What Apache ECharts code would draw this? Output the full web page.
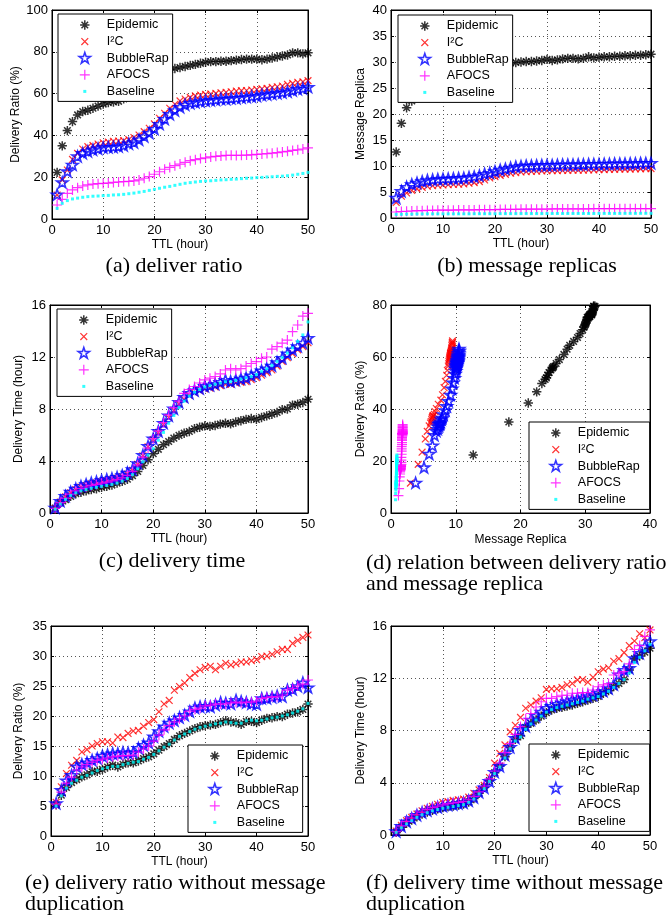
<!DOCTYPE html>
<html>
<head>
<meta charset="utf-8">
<script src="https://cdn.jsdelivr.net/npm/echarts@6/dist/echarts.min.js"></script>
<style>
  html, body { margin: 0; padding: 0; background: #fff; }
  #chart { width: 666px; height: 919px; }
</style>
</head>
<body>
<div id="chart"></div>
<script>
  // TTL (hour)
  const ttl = [1, 2, 3, 4, 5, 6, 7, 8, 9, 10, 11, 12, 13, 14, 15, 16, 17, 18, 19, 20,
    21, 22, 23, 24, 25, 26, 27, 28, 29, 30, 31, 32, 33, 34, 35, 36, 37, 38, 39, 40,
    41, 42, 43, 44, 45, 46, 47, 48, 49, 50]
  const names = ['Epidemic', 'I²C', 'BubbleRap', 'AFOCS', 'Baseline']

  // (a) delivery ratio (%)
  const ratioEpidemic = [22.3, 35, 42.3, 46.6, 49.8, 51.4, 52, 53, 54, 55, 55.7, 56, 56.3, 57.5, 59, 61, 63, 64.5, 66, 67.5,
    69, 70.5, 71.5, 72, 72.5, 73, 73.5, 74, 74.5, 75, 75.3, 75.3, 75.5, 75.5, 75.8, 76, 76.3, 76.5, 76.5, 76.5,
    76.2, 76.5, 77, 77.5, 78, 78.5, 79.5, 79.5, 79, 79.5]
  const ratioI2C = [11.5, 18.7, 23.4, 28.5, 31.4, 33.5, 34.6, 35.2, 35.9, 36.5, 36.8, 37.2, 37.3, 37.5, 38, 39, 40.2, 41.8, 43.4, 45.5,
    48.2, 50.6, 53, 54.9, 56.5, 57.4, 58.2, 58.9, 59.3, 59.6, 59.8, 60.1, 60.4, 60.6, 60.9, 61.2, 61.4, 61.5, 61.7, 62,
    62.3, 62.5, 63, 63.3, 63.6, 64.4, 64.9, 65.4, 65.6, 66.2]
  const ratioBubble = [11.5, 17.4, 22.6, 25.8, 29.8, 31.4, 32.2, 33, 33.5, 34.1, 34.2, 34.3, 34.6, 35, 35.9, 36.5, 37.8, 39.4, 41, 42.9,
    45.3, 47.7, 50, 51.8, 53.4, 54.5, 55.3, 55.7, 56.1, 56.5, 56.7, 56.9, 57.3, 57.3, 57.6, 57.7, 58, 58.2, 58.5, 58.7,
    59.2, 59.5, 59.8, 60.1, 60.4, 60.8, 61.4, 62, 62.3, 63]
  const ratioAfocs = [6.7, 9.4, 12.3, 13.9, 15, 15.8, 16.3, 16.7, 16.9, 17, 17.2, 17.5, 17.7, 17.9, 18, 18.2, 18.7, 19.5, 20.3, 21.4,
    22.6, 23.8, 24.7, 25.5, 26.3, 27.1, 27.9, 28.4, 28.9, 29.2, 29.7, 30, 30.2, 30.4, 30.5, 30.4, 30.5, 30.6, 30.7, 30.9,
    31.1, 31.3, 31.5, 31.8, 32.1, 32.4, 32.8, 33.1, 33.5, 34]
  const ratioBaseline = [5.1, 7.5, 8.8, 9.6, 10, 10.4, 10.7, 10.9, 11, 11.2, 11.3, 11.5, 11.6, 11.8, 12.1, 12.4, 12.8, 13.2, 13.7, 14.2,
    14.7, 15.2, 15.6, 16.1, 16.6, 17.1, 17.4, 17.7, 18, 18.2, 18.3, 18.5, 18.7, 18.8, 19, 19.1, 19.3, 19.5, 19.6, 19.8,
    19.9, 20.1, 20.2, 20.4, 20.5, 20.7, 21, 21.4, 21.8, 22.3]

  // (b) message replicas
  const replicaEpidemic = [12.7, 18.2, 21.2, 22.5, 23.3, 23.8, 24, 24.2, 24.4, 24.7, 24.9, 25, 25.1, 25.5, 26, 26.7, 27.2, 27.6, 28.2, 28.8,
    29.2, 29.6, 29.8, 29.9, 30, 30.1, 30.1, 30.2, 30.3, 30.5, 30.3, 30.4, 30.6, 30.7, 30.7, 30.6, 30.7, 31, 30.8, 30.9,
    31, 31, 31.1, 31.1, 31.2, 31.2, 31.3, 31.3, 31.4, 31.5]
  const replicaI2C = [3, 4.2, 4.8, 5.3, 5.6, 5.9, 6.1, 6.2, 6.3, 6.35, 6.4, 6.45, 6.5, 6.55, 6.7, 6.8, 7, 7.3, 7.7, 7.95,
    8.2, 8.4, 8.6, 8.7, 8.85, 8.9, 8.95, 9, 9.05, 9.1, 9.1, 9.1, 9.15, 9.15, 9.2, 9.2, 9.2, 9.25, 9.25, 9.3,
    9.3, 9.35, 9.35, 9.4, 9.4, 9.4, 9.45, 9.45, 9.5, 9.5]
  const replicaBubble = [3.8, 5.1, 5.9, 6.4, 6.7, 7, 7.2, 7.3, 7.4, 7.45, 7.5, 7.55, 7.6, 7.65, 7.8, 7.9, 8.1, 8.4, 8.6, 8.9,
    9.2, 9.4, 9.6, 9.8, 9.9, 10, 10, 10.05, 10.1, 10.1, 10.1, 10.15, 10.2, 10.2, 10.2, 10.25, 10.25, 10.3, 10.3, 10.3,
    10.35, 10.35, 10.4, 10.4, 10.4, 10.45, 10.45, 10.5, 10.5, 10.5]
  const replicaAfocs = [1.15, 1.25, 1.3, 1.35, 1.4, 1.4, 1.45, 1.45, 1.5, 1.5, 1.5, 1.5, 1.55, 1.55, 1.55, 1.55, 1.6, 1.6, 1.6, 1.6,
    1.65, 1.65, 1.65, 1.65, 1.7, 1.7, 1.7, 1.7, 1.7, 1.7, 1.75, 1.75, 1.75, 1.75, 1.75, 1.75, 1.75, 1.75, 1.8, 1.8,
    1.8, 1.8, 1.8, 1.8, 1.8, 1.8, 1.8, 1.8, 1.8, 1.8]
  const replicaBaseline = [0.7, 0.72, 0.75, 0.75, 0.78, 0.78, 0.8, 0.8, 0.8, 0.8, 0.8, 0.8, 0.8, 0.8, 0.8, 0.82, 0.82, 0.82, 0.82, 0.82,
    0.84, 0.84, 0.84, 0.84, 0.85, 0.85, 0.85, 0.85, 0.85, 0.86, 0.86, 0.86, 0.86, 0.86, 0.87, 0.87, 0.87, 0.87, 0.87, 0.88,
    0.88, 0.88, 0.88, 0.88, 0.89, 0.89, 0.89, 0.9, 0.9, 0.9]

  // (c) delivery time (hour)
  const timeEpidemic = [0.38, 0.77, 1.02, 1.28, 1.48, 1.6, 1.7, 1.8, 1.87, 1.97, 2.05, 2.15, 2.3, 2.43, 2.6, 2.87, 3.2, 3.66, 4.1, 4.56,
    4.9, 5.25, 5.5, 5.76, 5.97, 6.14, 6.27, 6.48, 6.6, 6.7, 6.66, 6.73, 6.84, 6.9, 6.86, 7, 7.1, 7.2, 7.27, 7.2,
    7.35, 7.47, 7.6, 7.73, 7.94, 8.0, 8.3, 8.37, 8.5, 8.75]
  const timeI2C = [0.35, 0.85, 1.25, 1.55, 1.8, 2.0, 2.12, 2.25, 2.33, 2.42, 2.5, 2.58, 2.68, 2.8, 3.0, 3.28, 3.75, 4.4, 5.1, 5.65,
    6.2, 6.8, 7.35, 7.9, 8.4, 8.75, 9.05, 9.25, 9.4, 9.55, 9.6, 9.7, 9.8, 9.9, 9.9, 10.0, 10.05, 10.1, 10.25, 10.4,
    10.6, 10.8, 11.0, 11.3, 11.65, 11.95, 12.25, 12.55, 12.8, 13.1]
  const timeBubble = [0.38, 0.9, 1.28, 1.6, 1.84, 2.05, 2.18, 2.3, 2.38, 2.48, 2.56, 2.64, 2.74, 2.87, 3.07, 3.33, 3.8, 4.43, 5.12, 5.7,
    6.27, 6.9, 7.47, 8.0, 8.5, 8.9, 9.2, 9.4, 9.55, 9.73, 9.8, 9.9, 10.04, 10.2, 10.1, 10.2, 10.3, 10.37, 10.55, 10.7,
    10.93, 11.08, 11.3, 11.57, 11.9, 12.24, 12.54, 12.8, 13.06, 13.44]
  const timeAfocs = [0.35, 0.8, 1.15, 1.45, 1.7, 1.88, 2.0, 2.12, 2.2, 2.3, 2.38, 2.47, 2.57, 2.7, 2.9, 3.2, 3.7, 4.3, 5.0, 5.7,
    6.3, 6.95, 7.55, 8.1, 8.6, 9.2, 9.5, 9.73, 10, 10.24, 10.37, 10.5, 10.7, 11.0, 11.1, 11.0, 11.1, 11.3, 11.5, 11.65,
    11.9, 12.0, 12.6, 12.8, 13.06, 13.3, 13.95, 14.46, 15.15, 15.36]
  const timeBaseline = [0.3, 0.7, 1.05, 1.35, 1.55, 1.7, 1.8, 1.9, 1.97, 2.05, 2.12, 2.2, 2.3, 2.45, 2.65, 2.95, 3.4, 3.95, 4.45, 4.95,
    5.6, 6.2, 6.9, 7.5, 8.1, 8.6, 9.0, 9.3, 9.5, 9.7, 9.8, 9.9, 10.0, 10.1, 10.1, 10.2, 10.3, 10.4, 10.5, 10.65,
    10.9, 11.1, 11.35, 11.65, 11.95, 12.3, 12.7, 13.2, 13.7, 14.7]

  // (e) delivery ratio without message duplication (%)
  const uniqRatioEpidemic = [5.2, 6.8, 8.1, 8.9, 9.4, 9.85, 10.2, 10.7, 10.8, 11.1, 11.5, 11.8, 11.5, 11.96, 12.2, 12.2, 12.5, 12.9, 13.2, 13.7,
    14.3, 14.9, 15.4, 16.1, 16.7, 17.1, 17.5, 17.9, 18.2, 18.4, 18.5, 18.6, 18.9, 19.2, 19.0, 18.9, 18.6, 19.1, 19.1, 18.9,
    19.3, 19.6, 19.7, 19.9, 19.9, 20.3, 20.5, 20.7, 21.1, 22.0]
  const uniqRatioI2C = [5.6, 8.2, 10.4, 11.8, 12.6, 14.0, 14.4, 15.0, 15.4, 15.7, 15.7, 15.5, 16.5, 16.4, 17.1, 17.5, 17.6, 18.3, 18.9, 19.4,
    20.7, 22.0, 22.6, 24.3, 24.9, 25.5, 26.4, 27.1, 27.7, 28.1, 28.3, 27.7, 28.3, 28.8, 28.5, 28.7, 29.0, 29.0, 29.2, 29.4,
    29.9, 30.0, 30.3, 30.7, 31.1, 31.1, 32.1, 32.6, 33.1, 33.5]
  const uniqRatioBubble = [5.4, 7.6, 9.2, 10.1, 11.5, 11.9, 12.2, 12.6, 12.9, 13.3, 13.5, 13.7, 13.7, 13.9, 13.8, 13.9, 14.6, 15.1, 15.5, 16.5,
    17.4, 18.2, 18.8, 19.2, 19.7, 20.1, 20.7, 21.3, 21.5, 21.6, 21.5, 21.8, 22.2, 22.1, 22.0, 22.6, 22.4, 22.2, 22.0, 21.9,
    22.9, 22.9, 23.1, 23.3, 23.2, 24.3, 24.4, 24.9, 25.5, 24.7]
  const uniqRatioAfocs = [5.3, 7.3, 8.8, 9.8, 11.0, 11.5, 11.9, 12.3, 12.6, 12.8, 13.0, 13.2, 13.3, 13.4, 13.4, 13.5, 14.0, 14.5, 15.0, 15.8,
    16.8, 17.7, 18.4, 19.0, 19.5, 20.0, 20.8, 21.1, 21.3, 21.7, 21.8, 22.0, 22.0, 22.0, 22.2, 22.3, 22.2, 22.3, 22.3, 22.5,
    22.9, 23.1, 23.2, 23.2, 23.5, 24.3, 24.6, 25.0, 25.3, 26.0]
  const uniqRatioBaseline = [5.0, 6.7, 8.0, 8.8, 9.3, 9.8, 10.1, 10.5, 10.9, 11.2, 11.4, 11.6, 11.6, 11.9, 12.1, 12.3, 12.4, 12.8, 13.1, 13.6,
    14.2, 14.8, 15.3, 16.0, 16.6, 17.0, 17.4, 17.8, 18.1, 18.3, 18.5, 18.7, 18.8, 19.0, 18.9, 18.8, 18.8, 19.2, 19.3, 19.2,
    19.3, 19.5, 19.7, 19.8, 20.0, 20.2, 20.5, 20.8, 21.2, 22.1]

  // (f) delivery time without message duplication (hour)
  const uniqTimeEpidemic = [0.2, 0.6, 0.9, 1.15, 1.4, 1.6, 1.76, 1.9, 2.0, 2.1, 2.17, 2.22, 2.3, 2.37, 2.53, 2.8, 3.2, 3.65, 4.16, 4.77,
    5.28, 6.0, 6.69, 7.32, 7.6, 8.24, 8.55, 8.8, 9.1, 9.36, 9.57, 9.7, 9.77, 9.87, 9.95, 10.08, 10.2, 10.33, 10.46, 10.6,
    10.85, 11.05, 11.36, 11.6, 11.9, 12.63, 13.5, 13.7, 14.0, 14.3]
  const uniqTimeI2C = [0.3, 0.75, 1.1, 1.35, 1.6, 1.85, 2.05, 2.2, 2.35, 2.5, 2.55, 2.65, 2.7, 2.75, 2.9, 3.2, 3.45, 3.8, 4.4, 5.5,
    6.25, 6.9, 7.9, 8.4, 9.0, 9.7, 9.95, 10.25, 10.5, 11.15, 11.2, 11.2, 11.3, 11.5, 11.6, 11.87, 11.9, 11.7, 12.07, 12.5,
    12.7, 12.8, 13.3, 13.5, 13.96, 14.5, 14.85, 15.4, 15.1, 15.7]
  const uniqTimeBubble = [0.25, 0.65, 1.0, 1.25, 1.5, 1.7, 1.85, 2.0, 2.1, 2.2, 2.27, 2.32, 2.4, 2.45, 2.6, 2.85, 3.25, 3.6, 4.1, 4.8,
    5.25, 6.1, 6.7, 7.4, 8.0, 8.3, 8.8, 9.1, 9.4, 9.7, 9.85, 10.0, 10.1, 10.2, 10.33, 10.4, 10.5, 10.6, 10.7, 10.85,
    11.0, 11.2, 11.5, 12.25, 12.6, 12.75, 13.5, 13.9, 14.4, 14.8]
  const uniqTimeAfocs = [0.25, 0.7, 1.05, 1.3, 1.55, 1.75, 1.95, 2.1, 2.2, 2.3, 2.4, 2.45, 2.5, 2.55, 2.7, 2.95, 3.3, 3.75, 4.3, 4.9,
    5.5, 6.3, 7.0, 7.7, 8.3, 8.9, 9.3, 9.8, 10.2, 10.46, 10.46, 10.6, 10.7, 10.7, 10.85, 10.85, 10.9, 10.9, 11.1, 11.35,
    11.5, 11.6, 12.25, 12.4, 12.5, 13.1, 14.2, 14.5, 15.2, 15.7]
  const uniqTimeBaseline = [0.2, 0.55, 0.85, 1.1, 1.35, 1.55, 1.7, 1.85, 1.95, 2.05, 2.12, 2.18, 2.25, 2.32, 2.5, 2.75, 3.15, 3.55, 4.1, 4.7,
    5.2, 5.9, 6.6, 7.2, 7.5, 8.1, 8.5, 8.8, 9.1, 9.4, 9.6, 9.75, 9.85, 9.95, 10.05, 10.15, 10.25, 10.4, 10.5, 10.6,
    10.8, 11.0, 11.3, 11.6, 11.9, 12.4, 13.2, 13.6, 14.1, 14.6]

  const ratioAll = [ratioEpidemic, ratioI2C, ratioBubble, ratioAfocs, ratioBaseline]
  const replicaAll = [replicaEpidemic, replicaI2C, replicaBubble, replicaAfocs, replicaBaseline]

  // matlab-ish markers, every path sits in the same 12x12 frame
  const frame = 'M0,0L0,0M12,12L12,12'
  const marks = [
    { symbol: 'path://' + frame + 'M6,1.3L6,10.7M1.3,6L10.7,6M2.7,2.7L9.3,9.3M2.7,9.3L9.3,2.7',
      style: { color: 'transparent', borderColor: '#000000', borderWidth: 1.5 } },
    { symbol: 'path://' + frame + 'M2.6,2.6L9.4,9.4M2.6,9.4L9.4,2.6',
      style: { color: 'transparent', borderColor: '#ff0000', borderWidth: 1.2 } },
    { symbol: 'path://' + frame + 'M6,0.3L7.35,4.34L11.61,4.38L8.19,6.91L9.47,10.97L6,8.5L2.53,10.97L3.81,6.91L0.39,4.38L4.65,4.34Z',
      style: { color: 'transparent', borderColor: '#0000ff', borderWidth: 1.6 } },
    { symbol: 'path://' + frame + 'M6,1L6,11M1,6L11,6',
      style: { color: 'transparent', borderColor: '#ff00ff', borderWidth: 1.2 } },
    { symbol: 'path://' + frame + 'M4.5,4.5L7.5,4.5L7.5,7.5L4.5,7.5Z',
      style: { color: '#00ffff', borderWidth: 0 } }
  ]

  const panels = [
    { grid: [52, 10, 256, 209], x: [0, 50, 10, 'TTL (hour)', 20], y: [0, 100, 20, 'Delivery Ratio (%)', 30],
      ys: ratioAll, legend: [58, 14, 4] },
    { grid: [391, 10, 260, 208], x: [0, 50, 10, 'TTL (hour)', 20], y: [0, 40, 5, 'Message Replica', 24],
      ys: replicaAll, legend: [398, 15, 4] },
    { grid: [50, 305, 258, 208], x: [0, 50, 10, 'TTL (hour)', 20], y: [0, 16, 4, 'Delivery Time (hour)', 25],
      ys: [timeEpidemic, timeI2C, timeBubble, timeAfocs, timeBaseline], legend: [57, 309, 4] },
    { grid: [391, 305, 259, 208], x: [0, 40, 10, 'Message Replica', 21], y: [0, 80, 20, 'Delivery Ratio (%)', 24],
      ys: ratioAll, xs: replicaAll, legend: [529, 422, 10] },
    { grid: [51, 626, 257, 210], x: [0, 50, 10, 'TTL (hour)', 20], y: [0, 35, 5, 'Delivery Ratio (%)', 26],
      ys: [uniqRatioEpidemic, uniqRatioI2C, uniqRatioBubble, uniqRatioAfocs, uniqRatioBaseline], legend: [188, 745, 4] },
    { grid: [391, 626, 259, 209], x: [0, 50, 10, 'TTL (hour)', 20], y: [0, 16, 4, 'Delivery Time (hour)', 24],
      ys: [uniqTimeEpidemic, uniqTimeI2C, uniqTimeBubble, uniqTimeAfocs, uniqTimeBaseline], legend: [529, 744, 10] }
  ]

  const sans = 'Liberation Sans'
  const serif = 'Liberation Serif'
  const black = '#000'

  function makeAxis(i, position, spec, main) {
    return {
      type: 'value',
      gridIndex: i,
      position: position,
      min: spec[0],
      max: spec[1],
      interval: spec[2],
      name: main ? spec[3] : '',
      nameLocation: 'middle',
      nameGap: spec[4],
      nameTextStyle: { fontFamily: sans, fontSize: 12, color: black },
      axisLine: { show: true, onZero: false, lineStyle: { color: black, width: 1 } },
      axisTick: { show: true, inside: true, length: 3, lineStyle: { color: black } },
      axisLabel: {
        show: main,
        margin: position === 'bottom' ? 5 : 4,
        fontFamily: sans,
        fontSize: 13,
        color: black
      },
      splitLine: {
        show: main,
        lineStyle: { color: '#555', width: 1, type: [1, 3] }
      }
    }
  }

  const grid = []
  const xAxis = []
  const yAxis = []
  const series = []
  const legend = []

  panels.forEach((p, i) => {
    grid.push({
      left: p.grid[0], top: p.grid[1], width: p.grid[2], height: p.grid[3],
      show: true, borderColor: black, borderWidth: 1, backgroundColor: '#fff',
      outerBoundsMode: 'none'
    })
    xAxis.push(makeAxis(i, 'bottom', p.x, true), makeAxis(i, 'top', p.x, false))
    yAxis.push(makeAxis(i, 'left', p.y, true), makeAxis(i, 'right', p.y, false))
    p.ys.forEach((vals, j) => {
      series.push({
        name: names[j],
        type: 'scatter',
        xAxisIndex: 2 * i,
        yAxisIndex: 2 * i,
        data: vals.map((v, k) => [p.xs ? p.xs[j][k] : ttl[k], v]),
        symbol: marks[j].symbol,
        symbolSize: 12,
        symbolKeepAspect: true,
        itemStyle: marks[j].style,
        clip: false,
        silent: true
      })
    })
    legend.push({
      orient: 'vertical',
      left: p.legend[0],
      top: p.legend[1],
      padding: [4, p.legend[2], 3, 20],
      itemGap: 2.6,
      itemWidth: 34,
      itemHeight: 12,
      selectedMode: false,
      backgroundColor: '#fff',
      borderColor: black,
      borderWidth: 1,
      textStyle: { fontFamily: sans, fontSize: 12.5, color: black, lineHeight: 14 },
      data: names.map((n, j) => ({ name: n, icon: marks[j].symbol, itemStyle: marks[j].style }))
    })
  })

  // sub-figure captions
  const captions = [
    ['(a) deliver ratio', 174, 266, 'center'],
    ['(b) message replicas', 527, 266, 'center'],
    ['(c) delivery time', 172, 561, 'center'],
    ['(d) relation between delivery ratio', 366, 563, 'left'],
    ['and message replica', 366, 584, 'left'],
    ['(e) delivery ratio without message', 25, 883, 'left'],
    ['duplication', 25, 904, 'left'],
    ['(f) delivery time without message', 366, 883, 'left'],
    ['duplication', 366, 904, 'left']
  ]

  const chart = echarts.init(document.getElementById('chart'))
  chart.setOption({
    animation: false,
    backgroundColor: '#fff',
    grid: grid,
    xAxis: xAxis,
    yAxis: yAxis,
    legend: legend,
    series: series,
    graphic: captions.map(c => ({
      type: 'text',
      x: c[1],
      y: c[2],
      silent: true,
      style: {
        text: c[0],
        fontFamily: serif,
        fontSize: 22,
        fill: black,
        align: c[3],
        verticalAlign: 'middle'
      }
    }))
  })
</script>
</body>
</html>
